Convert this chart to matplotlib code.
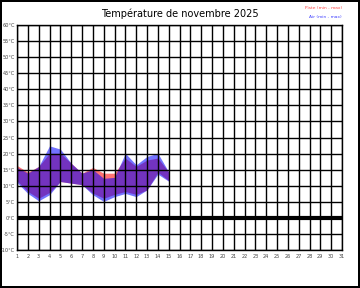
import matplotlib
matplotlib.use("Agg")
import matplotlib.pyplot as plt
import numpy as np

# relevés de novembre 2025 (jours 1 à 15)
days = np.arange(1, 16)
piste_min = [11.5, 8.2, 6.1, 7.9, 11.3, 10.8, 10.3, 7.7, 6.1, 7.3, 8.2, 7.3, 8.7, 14.2, 11.6]
piste_max = [16.3, 14.2, 16.0, 20.1, 20.1, 17.0, 13.9, 15.7, 13.9, 13.9, 18.6, 16.0, 18.0, 18.6, 14.3]
air_min = [11.0, 7.6, 5.3, 7.2, 11.3, 10.8, 10.3, 7.2, 5.1, 6.6, 7.6, 6.6, 8.7, 13.6, 11.4]
air_max = [15.7, 13.9, 16.0, 22.4, 21.4, 17.0, 13.9, 15.0, 12.3, 12.6, 20.1, 16.5, 19.1, 20.1, 14.3]

fig = plt.figure(figsize=(3.6, 2.88), dpi=100)
fig.patch.set_edgecolor('black')
fig.patch.set_linewidth(1.5)
ax = fig.add_axes([17/360, 1 - 250/288, 325/360, 225/288])

ax.fill_between(days, piste_min, piste_max, color='#ff0000', alpha=0.55, lw=0)
ax.fill_between(days, air_min, air_max, color='#0000ff', alpha=0.55, lw=0)

ax.set_xlim(1, 31)
ax.set_ylim(-10, 60)
ax.set_xticks(range(1, 32))
ax.set_yticks(range(-10, 61, 5))
ax.set_yticklabels([f'{v}°C' for v in range(-10, 61, 5)])
ax.grid(True, color='black', lw=1)
ax.axhline(0, color='black', lw=3)
ax.tick_params(length=0, labelsize=3.6, colors='#444444', pad=1.5)
ax.tick_params(axis='x', pad=3)
for s in ax.spines.values():
    s.set_color('black')
    s.set_linewidth(1)

fig.text(0.5, 1 - 14/288, 'Température de novembre 2025', ha='center', va='center', fontsize=7)
fig.text(342/360, 1 - 8/288, 'Piste (min - max)', ha='right', va='center', fontsize=3.2, color='#ff4444')
fig.text(342/360, 1 - 17/288, 'Air (min - max)', ha='right', va='center', fontsize=3.2, color='#4444ff')

fig.savefig('out.png', dpi=100)
